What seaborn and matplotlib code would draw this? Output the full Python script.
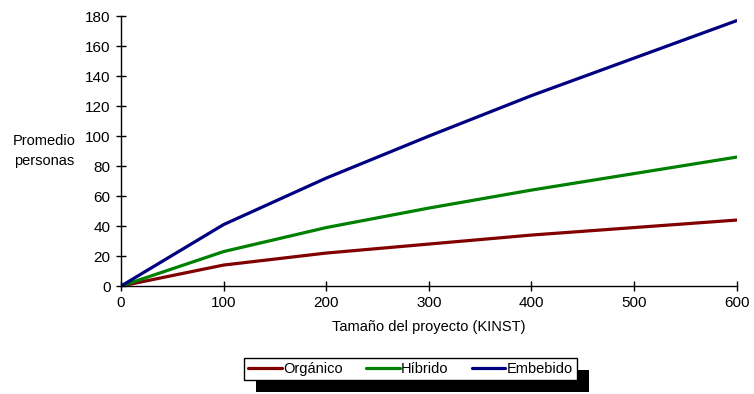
import numpy as np
import pandas as pd
import seaborn as sns
import matplotlib.pyplot as plt
import matplotlib.patheffects as pe

kinst = [0, 100, 200, 300, 400, 500, 600]
organico = [0, 14, 22, 28, 34, 39, 44]
hibrido = [0, 23, 39, 52, 64, 75, 86]
embebido = [0, 41, 72, 100, 127, 152, 177]
tipos = ['Orgánico', 'Híbrido', 'Embebido']
colores = ['#800000', '#008000', '#000080']

df = pd.DataFrame({
    'kinst': kinst * 3,
    'personas': organico + hibrido + embebido,
    'tipo': np.repeat(tipos, len(kinst)),
})

sns.set_style('white')
plt.rcParams['font.family'] = ['Liberation Sans', 'DejaVu Sans']
plt.rcParams['text.color'] = 'black'
plt.rcParams['axes.labelcolor'] = 'black'

fig = plt.figure(figsize=(7.54, 3.94), dpi=100)
ax = fig.add_axes([0.1605, 0.274, 0.8165, 0.685])
sns.lineplot(data=df, x='kinst', y='personas', hue='tipo', hue_order=tipos,
             palette=colores, linewidth=2.3, ax=ax)

ax.set_xlim(0, 600)
ax.set_ylim(0, 180)
ax.set_xticks(range(0, 601, 100))
ax.set_yticks(range(0, 181, 20))
ax.tick_params(direction='inout', length=7, width=1, colors='black',
               labelsize=11, labelcolor='black', pad=4,
               bottom=True, left=True)
sns.despine(ax=ax)
for s in ['left', 'bottom']:
    ax.spines[s].set_color('black')
    ax.spines[s].set_linewidth(1)

ax.set_xlabel('Tamaño del proyecto (KINST)', fontsize=10.5, labelpad=7)
ax.set_ylabel('Promedio\npersonas', fontsize=10.5, rotation=0,
              ha='center', va='center', linespacing=1.6)
ax.yaxis.set_label_coords(-0.125, 0.5)

leg = ax.legend(loc='center', bbox_to_anchor=(0.5444, 0.0635),
                bbox_transform=fig.transFigure, ncol=3, frameon=True,
                fancybox=False, framealpha=1, fontsize=10.5, handlelength=2.3,
                handletextpad=0.1, columnspacing=1.6, borderpad=0.3,
                borderaxespad=0)
frame = leg.get_frame()
frame.set_edgecolor('black')
frame.set_facecolor('white')
frame.set_linewidth(1)
frame.set_path_effects([pe.SimplePatchShadow(offset=(8.6, -8.6),
                                             shadow_rgbFace='black', alpha=1),
                        pe.Normal()])
for line in leg.get_lines():
    line.set_linewidth(2.3)

fig.savefig('out.png', dpi=100)
plt.close()
